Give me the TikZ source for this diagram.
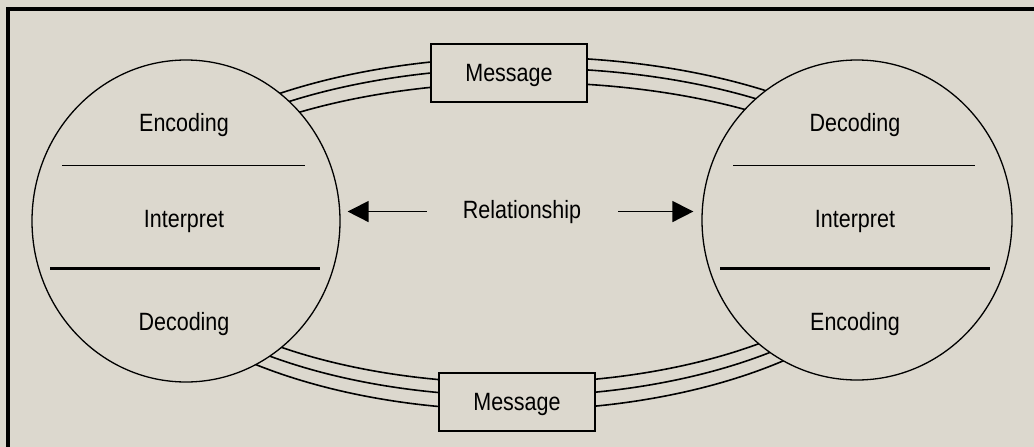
\documentclass[tikz,border=0pt]{standalone}
\usepackage{fontspec}
\setmainfont{Liberation Sans}[FakeStretch=0.86]
\usepackage{xcolor}
\usetikzlibrary{shapes, arrows.meta}
\definecolor{paper}{RGB}{220,216,206}

\begin{document}
\begin{tikzpicture}[x=1pt, y=-1pt,
        party/.style={ellipse, draw, line width=1.3pt, fill=paper, minimum width=308pt, minimum height=322pt, inner sep=0pt},
        msg/.style={rectangle, draw, line width=1.6pt, fill=paper, minimum width=156pt, minimum height=58pt, text depth=0pt, font=\fontsize{25}{30}\selectfont},
        lbl/.style={anchor=base, inner sep=0pt, font=\fontsize{25}{30}\selectfont},
        channel/.style={line width=1.6pt},
        pointer/.style={line width=1.6pt, -{Triangle[length=21pt, width=21pt]}}]
        \useasboundingbox (0,0) rectangle (1034,447);
        \fill[paper] (0,0) rectangle (1034,447);
        \draw[line width=4pt] (7.5,447) -- (7.5,8.5) -- (1034,8.5);

        % channels above and below
        \foreach \a/\b in {412/182, 400/171, 388/156.5}
            \draw[channel] (527,239) ++(-\a,0) arc[start angle=180, end angle=360, x radius=\a, y radius=\b];
        \foreach \a/\b in {412/204, 400/190, 388/177}
            \draw[channel] (515,206) ++(\a,0) arc[start angle=0, end angle=180, x radius=\a, y radius=\b];

        \node[party] (sender) at (186,221) {};
        \node[party, minimum width=310pt, minimum height=320pt] (receiver) at (857,220) {};

        \node[msg] (msgtop) at (509,73) {Message};
        \node[msg] (msgbot) at (517,402) {Message};

        \node[lbl] (senc) at (184,131) {Encoding};
        \node[lbl] (sint) at (184,227) {Interpret};
        \node[lbl] (sdec) at (184,330) {Decoding};
        \draw[line width=1pt] (62,165) -- (305,165);
        \draw[line width=3pt] (50,268) -- (320,268);

        \node[lbl] (rdec) at (855,131) {Decoding};
        \node[lbl] (rint) at (855,227) {Interpret};
        \node[lbl] (renc) at (855,330) {Encoding};
        \draw[line width=1pt] (733,165) -- (975,165);
        \draw[line width=3pt] (720,268) -- (990,268);

        \node[lbl] (rel) at (522,218) {Relationship};
        \draw[pointer, shorten >=7pt] ([xshift=-36pt]rel.west) -- (rel.west -| sender.east);
        \draw[pointer, shorten >=8pt] ([xshift=37pt]rel.east) -- (rel.east -| receiver.west);
    \end{tikzpicture}
\end{document}
